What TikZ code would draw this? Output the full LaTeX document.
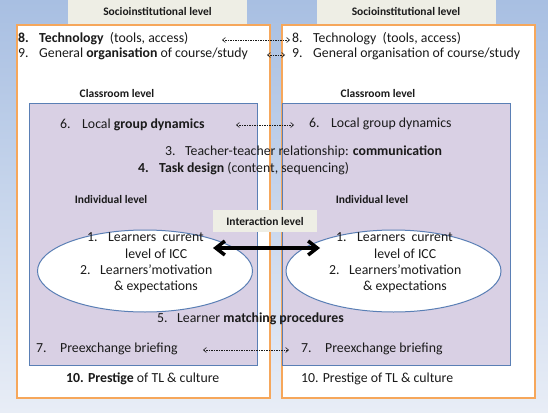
\documentclass[tikz,border=0pt]{standalone}
\usepackage{fontspec}
\setmainfont{Carlito}
\usepackage{tikz}
\usetikzlibrary{
arrows.meta,
positioning,
shapes.geometric
}
\definecolor{LVBgTop}{HTML}{A8BFE2}
\definecolor{LVBgBottom}{HTML}{E8EDF6}
\definecolor{LVOrange}{HTML}{F6A75B}
\definecolor{LVLilac}{HTML}{D9D0E4}
\definecolor{LVBlue}{HTML}{5A7FB5}
\definecolor{LVBeige}{HTML}{EEEEE5}
\definecolor{LVInk}{HTML}{1A1A1A}
\newcommand{\lvitem}[3][21pt]{\makebox[#1][l]{#2}#3}
\tikzset{
sociobox/.style={draw=LVOrange, fill=white, line width=1.3pt, minimum width=253pt,
  minimum height=373pt, inner sep=0pt},
classbox/.style={draw=LVBlue, fill=LVLilac, line width=1pt, minimum width=228pt,
  minimum height=262pt, inner sep=0pt},
indivellipse/.style={ellipse, draw=LVBlue, fill=white, line width=1pt, minimum width=215pt,
  minimum height=82pt, inner sep=0pt},
tablabel/.style={fill=LVBeige, minimum height=24pt, minimum width=179pt, inner sep=0pt,
  font=\fontsize{11.5}{13}\selectfont\bfseries, text=LVInk},
levellabel/.style={inner sep=0pt, font=\fontsize{11.5}{13}\selectfont\bfseries, text=LVInk},
itemtext/.style={anchor=west, inner sep=0pt, text height=1.5ex, text depth=.25ex,
  font=\fontsize{13.8}{16}\selectfont, text=LVInk},
linkdashed/.style={{Straight Barb[length=3pt,width=5pt]}-{Straight Barb[length=3pt,width=5pt]},
  line width=0.6pt, dash pattern=on 1.5pt off 1pt, draw=LVInk},
linkthick/.style={{Straight Barb[length=9pt,width=14pt]}-{Straight Barb[length=9pt,width=14pt]},
  line width=3.5pt, draw=black}
}
\begin{document}
\begin{tikzpicture}[x=1pt,y=-1pt]
\useasboundingbox (0,0) rectangle (548,412);
\fill[top color=LVBgTop, bottom color=LVBgBottom] (0,0) rectangle (548,412);

\node[sociobox] (socL) at (143.5,211.5) {};
\node[sociobox] (socR) at (408.5,211.5) {};
\node[tablabel] (socLabL) at (157.5,12) {Socioinstitutional level};
\node[tablabel] (socLabR) at (406,12) {Socioinstitutional level};

\node[classbox] (clsL) at (143,234) {};
\node[classbox] (clsR) at (396,234) {};

\node[indivellipse] (indL) at (145,271) {};
\node[indivellipse] (indR) at (393.5,271) {};

\node[tablabel, minimum width=104pt, minimum height=22pt] (interLab) at (265,221) {Interaction level};

\node[itemtext] (techL) at (18,40) {\lvitem{\textbf{8.}}{\textbf{Technology}\ \ (tools, access)}};
\node[itemtext] (techR) at (292,40) {\lvitem{8.}{Technology\ \ (tools, access)}};
\node[itemtext] (orgL) at (18,55) {\lvitem{9.}{General \textbf{organisation} of course/study}};
\node[itemtext] (orgR) at (292,55) {\lvitem{9.}{General organisation of course/study}};

\node[levellabel] (clsLabL) at (117,94) {Classroom level};
\node[levellabel] (clsLabR) at (378,94) {Classroom level};

\node[itemtext] (grpL) at (60,126) {\lvitem[22pt]{6.}{Local \textbf{group dynamics}}};
\node[itemtext] (grpR) at (309,125) {\lvitem[22pt]{6.}{Local group dynamics}};
\node[itemtext] (comm) at (165,153) {\lvitem[20pt]{3.}{Teacher-teacher relationship: \textbf{communication}}};
\node[itemtext] (task) at (138,170) {\lvitem{\textbf{4.}}{\textbf{Task design} (content, sequencing)}};

\node[levellabel] (indLabL) at (111,200) {Individual level};
\node[levellabel] (indLabR) at (372,200) {Individual level};

\foreach \s/\dx in {L/0,R/249}{
  \node[itemtext] (lvl1\s) at (87+\dx,239) {\lvitem{1.}{Learners\ \ current}};
  \node[itemtext] (lvl2\s) at (125+\dx,256) {level of ICC};
  \node[itemtext] (mot1\s) at (80+\dx,272) {\lvitem[20pt]{2.}{Learners’motivation}};
  \node[itemtext] (mot2\s) at (114+\dx,288) {\& expectations};
}

\node[itemtext] (match) at (157,320) {\lvitem[20pt]{5.}{Learner \textbf{matching procedures}}};
\node[itemtext] (brfL) at (36,350) {\lvitem[24pt]{7.}{Preexchange briefing}};
\node[itemtext] (brfR) at (301,350) {\lvitem[24pt]{7.}{Preexchange briefing}};
\node[itemtext] (prsL) at (66,380) {\textbf{10. Prestige} of TL \& culture};
\node[itemtext] (prsR) at (301,380) {10. Prestige of TL \& culture};

\coordinate (techA) at (222,40);
\coordinate (techB) at (290,40);
\coordinate (orgA) at (267,55);
\coordinate (orgB) at (285,55);
\coordinate (grpA) at (236,125);
\coordinate (grpB) at (294,125);
\coordinate (brfA) at (203,350);
\coordinate (brfB) at (289,350);
\coordinate (actA) at (213,248);
\coordinate (actB) at (320,248);

\foreach \a/\b in {techA/techB,orgA/orgB,grpA/grpB,brfA/brfB}
\draw[linkdashed] (\a) -- (\b);
\draw[linkthick] (actA) -- (actB);
\end{tikzpicture}
\end{document}
